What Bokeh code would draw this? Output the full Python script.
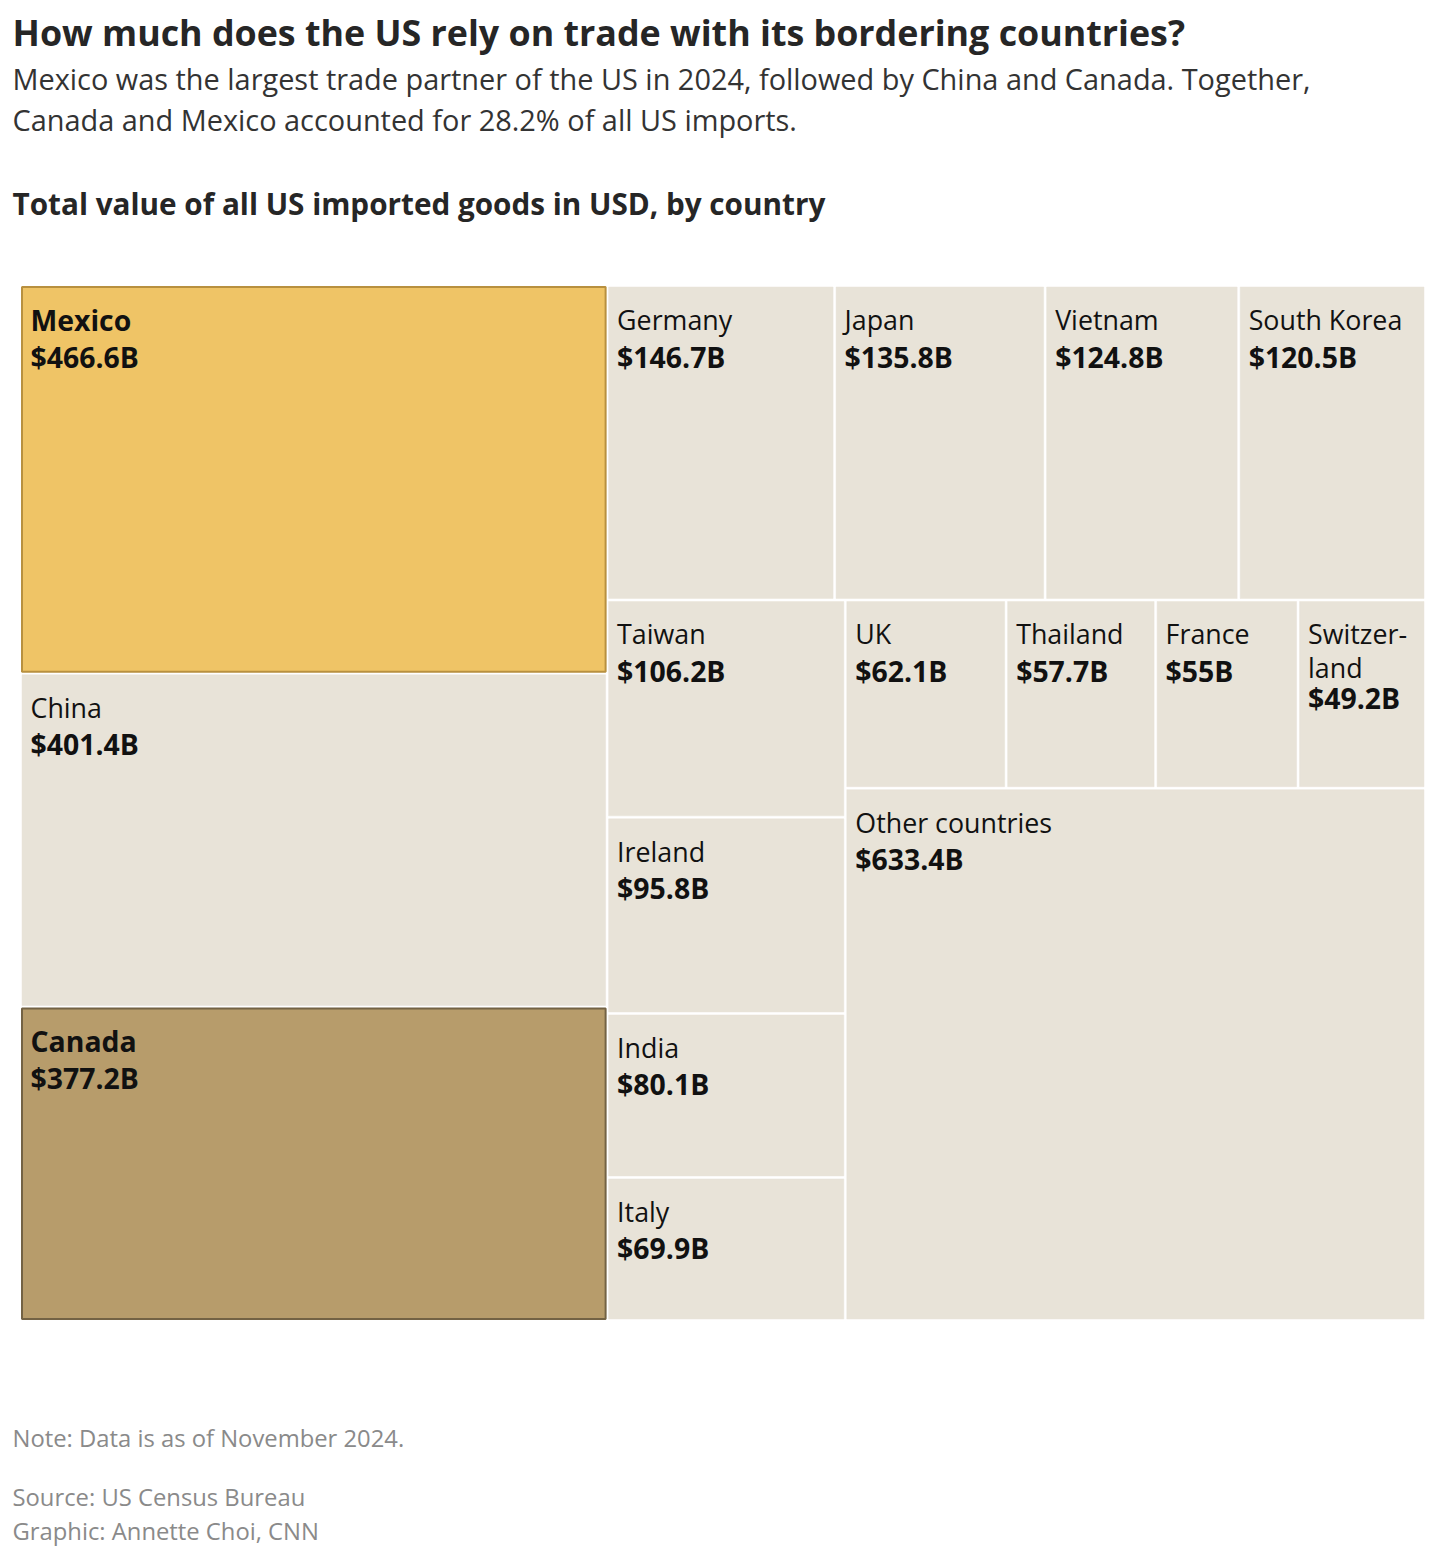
import math
from bokeh.plotting import figure
from bokeh.models import Range1d
from bokeh.core.properties import value
from bokeh.embed import file_html
from bokeh.resources import INLINE

# ---------------- data ----------------
countries = ["Mexico", "China", "Canada", "Germany", "Japan", "Vietnam", "South Korea",
             "Taiwan", "Ireland", "India", "Italy", "UK", "Thailand", "France",
             "Switzerland", "Other countries"]
display_names = ["Mexico", "China", "Canada", "Germany", "Japan", "Vietnam", "South Korea",
                 "Taiwan", "Ireland", "India", "Italy", "UK", "Thailand", "France",
                 "Switzer-\nland", "Other countries"]
imports_bn = [466.6, 401.4, 377.2, 146.7, 135.8, 124.8, 120.5,
              106.2, 95.8, 80.1, 69.9, 62.1, 57.7, 55.0, 49.2, 633.4]
highlight = {"Mexico": "mexico", "Canada": "canada"}

title = "How much does the US rely on trade with its bordering countries?"
subtitle1 = "Mexico was the largest trade partner of the US in 2024, followed by China and Canada. Together,"
subtitle2 = "Canada and Mexico accounted for 28.2% of all US imports."
heading = "Total value of all US imported goods in USD, by country"
note = "Note: Data is as of November 2024."
source = "Source: US Census Bureau"
credit = "Graphic: Annette Choi, CNN"

# ---------------- styles ----------------
W, H = 1435, 1547
TX0, TY0, TX1, TY1 = 20, 285, 1425, 1320
GAP = 3
FONT = "Open Sans"
BEIGE = "#e8e3d8"
FILL = {"mexico": "#efc466", "canada": "#b79c6b"}
EDGE = {"mexico": "#b8903f", "canada": "#736244"}

# ---------------- squarified treemap (d3 algorithm) ----------------
def squarify(values, x0, y0, x1, y1, ratio=(1 + math.sqrt(5)) / 2):
    rects = [None] * len(values)
    n = len(values)
    total = sum(values)
    i0 = 0
    while i0 < n:
        dx, dy = x1 - x0, y1 - y0
        i1 = i0
        s = values[i1]; i1 += 1
        mn = mx = s
        alpha = max(dy / dx, dx / dy) / (total * ratio)
        beta = s * s * alpha
        min_ratio = max(mx / beta, beta / mn)
        while i1 < n:
            v = values[i1]
            s += v
            mn = min(mn, v); mx = max(mx, v)
            beta = s * s * alpha
            new_ratio = max(mx / beta, beta / mn)
            if new_ratio > min_ratio:
                s -= v
                break
            min_ratio = new_ratio
            i1 += 1
        idx = list(range(i0, i1))
        if dx < dy:  # dice: horizontal row at top
            ny = y0 + dy * s / total
            cx = x0
            for k in idx:
                w = (x1 - x0) * values[k] / s
                rects[k] = (cx, y0, cx + w, ny)
                cx += w
            y0 = ny
        else:  # slice: vertical column at left
            nx = x0 + dx * s / total
            cy = y0
            for k in idx:
                h = (y1 - y0) * values[k] / s
                rects[k] = (x0, cy, nx, cy + h)
                cy += h
            x0 = nx
        total -= s
        i0 = i1
    return rects

rects = squarify(imports_bn, TX0, TY0, TX1, TY1)

# ---------------- figure ----------------
p = figure(width=W, height=H, output_backend="svg", toolbar_location=None,
           x_range=Range1d(0, W), y_range=Range1d(H, 0), min_border=0)
p.axis.visible = False
p.grid.visible = False
p.outline_line_color = None
p.background_fill_color = "white"
p.border_fill_color = "white"

left, right, top, bottom, fills, lines, lws = [], [], [], [], [], [], []
for c, r in zip(countries, rects):
    x0, y0, x1, y1 = r
    key = highlight.get(c)
    left.append(x0 + GAP / 2); right.append(x1 - GAP / 2)
    top.append(y0 + GAP / 2); bottom.append(y1 - GAP / 2)
    fills.append(FILL[key] if key else BEIGE)
    lines.append(EDGE[key] if key else BEIGE)
    lws.append(2 if key else 0.5)

p.quad(left=left, right=right, top=top, bottom=bottom, fill_color=fills,
       line_color=lines, line_width=lws)

# labels
norm_x, norm_y, norm_t = [], [], []
bold_x, bold_y, bold_t = [], [], []
for c, name, v, r in zip(countries, display_names, imports_bn, rects):
    x0, y0, x1, y1 = r
    tx = x0 + 10
    ty = y0 + 34
    lines_ = name.split("\n")
    for i, ln in enumerate(lines_):
        if c in highlight:
            bold_x.append(tx); bold_y.append(ty); bold_t.append(ln)
        else:
            norm_x.append(tx); norm_y.append(ty); norm_t.append(ln)
        if i < len(lines_) - 1:
            ty += 34
    ty += 37 if len(lines_) == 1 else 30
    bold_x.append(tx); bold_y.append(ty); bold_t.append(f"${v:g}B")

p.text(x=norm_x, y=norm_y, text=norm_t, text_font=value(FONT), text_font_size="26.8px",
       text_color="#111111", text_baseline="alphabetic", text_align="left")
p.text(x=bold_x, y=bold_y, text=bold_t, text_font=value(FONT), text_font_size="28.4px",
       text_font_style="bold", text_color="#111111", text_baseline="alphabetic",
       text_align="left")

def add_text(txt, x, y, size, style="normal", color="#222222"):
    p.text(x=[x], y=[y], text=[txt], text_font=value(FONT), text_font_size=size,
           text_font_style=style, text_color=color,
           text_baseline="alphabetic", text_align="left")

add_text(title, 12, 31, "35.8px", "bold", "#262626")
add_text(subtitle1, 12, 78, "28.9px", "normal", "#333333")
add_text(subtitle2, 12, 119, "28.9px", "normal", "#333333")
add_text(heading, 12, 203, "29.7px", "bold", "#262626")
add_text(note, 12, 1437, "23.8px", "normal", "#8a8a8a")
add_text(source, 12, 1496, "23.8px", "normal", "#8a8a8a")
add_text(credit, 12, 1530, "23.8px", "normal", "#8a8a8a")

open("out.html", "w").write(file_html(p, INLINE))
